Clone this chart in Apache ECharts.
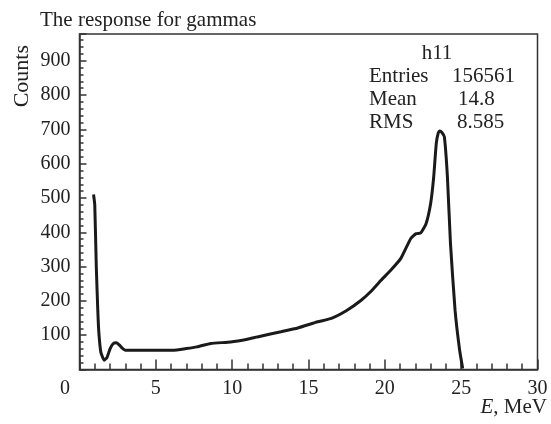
<!DOCTYPE html>
<html>
<head>
<meta charset="utf-8">
<script src="https://cdn.jsdelivr.net/npm/echarts@6/dist/echarts.min.js"></script>
<style>
html,body{margin:0;padding:0;background:#fff;}
#c{width:551px;height:424px;}
</style>
</head>
<body>
<div id="c"></div>
<script>
// Data
const energy = [0.92, 1.0, 1.1, 1.2, 1.27, 1.4, 1.62, 1.8, 2.0, 2.2, 2.4, 2.6, 2.8, 3.0, 4.0, 5.0, 6.1, 7.0, 7.7, 8.6, 9.9, 11.0, 11.65, 13.2, 14.3, 15.6, 16.5, 17.5, 18.45, 19.1, 19.75, 20.4, 21.05, 21.7, 22.05, 22.35, 22.7, 23.0, 23.2, 23.37, 23.5, 23.6, 23.75, 23.9, 24.1, 24.3, 24.6, 24.9, 25.1];
const counts = [510, 480, 300, 170, 106, 50, 27, 35, 60, 75, 78, 72, 62, 56, 56, 56, 56, 61, 66, 76, 80, 88, 95, 110, 121, 139, 149, 172, 202, 228, 260, 290, 324, 382, 396, 398, 425, 484, 561, 659, 690, 695, 690, 678, 561, 367, 173, 56, 3];
const xTicks = [0, 5, 10, 15, 20, 25, 30];
const yTicks = [100, 200, 300, 400, 500, 600, 700, 800, 900];
const stats = [["Entries", "156561"], ["Mean", "14.8"], ["RMS", "8.585"]];

const FONT = '"Liberation Serif", "DejaVu Serif", serif';
const chart = echarts.init(document.getElementById('c'), null, {renderer: 'canvas'});
const points = energy.map((e, i) => [e, counts[i]]);

chart.setOption({
  animation: false,
  backgroundColor: '#fff',
  title: {
    text: 'The response for gammas',
    left: 35, top: 5,
    textStyle: {fontFamily: FONT, fontSize: 21, fontWeight: 'normal', color: '#222'}
  },
  grid: {
    left: 79.5, right: 13.5, top: 34, bottom: 54.5,
    show: true, borderColor: '#333', borderWidth: 1.5, backgroundColor: 'transparent'
  },
  xAxis: {
    type: 'value', min: 0, max: 30, interval: 5,
    axisLine: {show: true, lineStyle: {color: '#333', width: 1.5}},
    axisTick: {show: true, inside: true, length: 10, lineStyle: {color: '#333', width: 1.5}},
    minorTick: {show: true, splitNumber: 5, length: 6, lineStyle: {color: '#333', width: 1.5}},
    splitLine: {show: false},
    axisLabel: {
      margin: 9, color: '#222', fontFamily: FONT, fontSize: 20,
      formatter: v => xTicks.indexOf(v) === 0 ? '{z|' + v + '}' : (xTicks.indexOf(v) >= 0 ? String(v) : ''),
      rich: {z: {fontFamily: FONT, fontSize: 20, color: '#222', padding: [0, 29, 0, 0]}}
    }
  },
  yAxis: {
    type: 'value', min: 0, max: 978, interval: 100,
    axisLine: {show: true, lineStyle: {color: '#333', width: 1.5}},
    axisTick: {show: true, inside: true, length: 7, lineStyle: {color: '#333', width: 1.5}},
    minorTick: {show: true, splitNumber: 5, length: 4, lineStyle: {color: '#333', width: 1.5}},
    splitLine: {show: false},
    axisLabel: {
      margin: 9, color: '#222', fontFamily: FONT, fontSize: 20,
      showMinLabel: false, showMaxLabel: false,
      formatter: v => yTicks.indexOf(v) >= 0 ? String(v) : ''
    }
  },
  series: [{
    type: 'line', data: points, showSymbol: false, smooth: 0.15,
    lineStyle: {color: '#1a1a1a', width: 3},
    z: 3
  }],
  graphic: [
    {type: 'text', left: 11, top: 45, rotation: Math.PI / 2,
      style: {text: 'Counts', fontFamily: FONT, fontSize: 22, fill: '#222'}},
    {type: 'text', right: 4, top: 397,
      style: {text: '{i|E}, MeV', fontFamily: FONT, fontSize: 21, fill: '#222',
        rich: {i: {fontFamily: FONT, fontSize: 21, fontStyle: 'italic', fill: '#222'}}}},
    {type: 'text', x: 437, y: 53,
      style: {text: 'h11', fontFamily: FONT, fontSize: 21, fill: '#222', align: 'center', verticalAlign: 'middle'}},
    ...stats.map((s, i) => ({type: 'text', x: 369, y: 76 + i * 23,
      style: {text: s[0], fontFamily: FONT, fontSize: 21, fill: '#222', verticalAlign: 'middle'}})),
    ...stats.map((s, i) => ({type: 'text', x: [452, 458, 457][i], y: 76 + i * 23,
      style: {text: s[1], fontFamily: FONT, fontSize: 21, fill: '#222', verticalAlign: 'middle'}}))
  ]
});
</script>
</body>
</html>
